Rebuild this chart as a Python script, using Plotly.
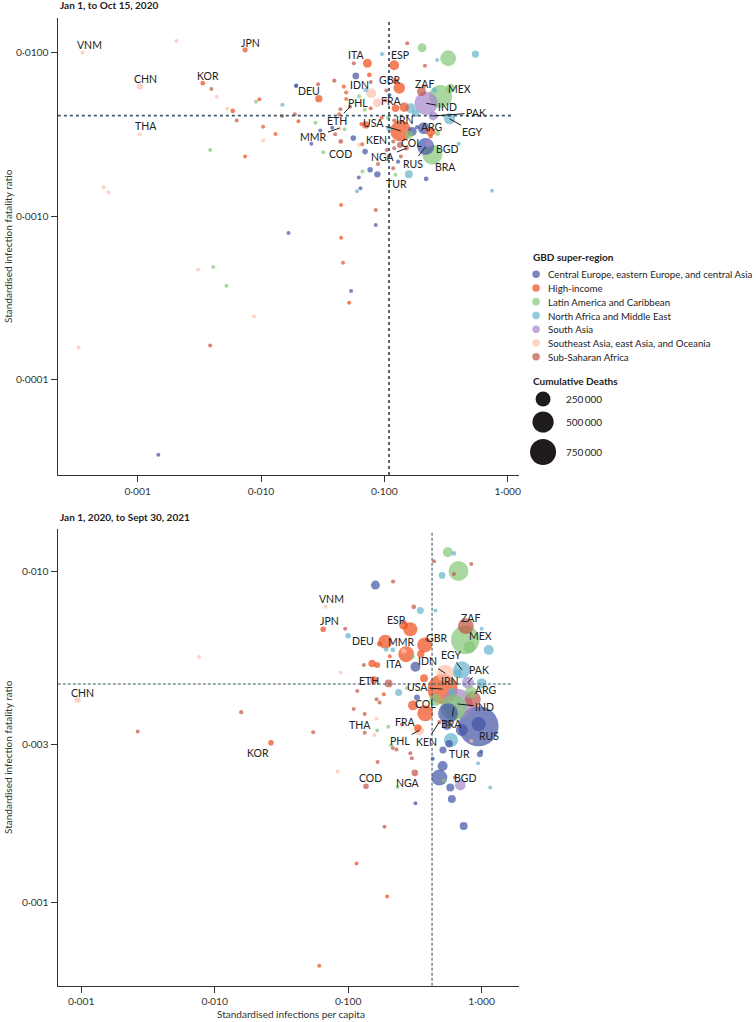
import numpy as np
import plotly.graph_objects as go

W, H = 756, 1022
FONT = "Lato, 'Open Sans', sans-serif"

# ---------------- categories / legend ----------------
regions = ["Central Europe, eastern Europe, and central Asia", "High-income",
           "Latin America and Caribbean", "North Africa and Middle East", "South Asia",
           "Southeast Asia, east Asia, and Oceania", "Sub-Saharan Africa"]
region_codes = ["CE", "HI", "LA", "NA", "SA", "SE", "SS"]
region_colors = ["#4252a5", "#ef4c1a", "#83c777", "#65b3cc", "#a586cc", "#fcc0a9", "#c25244"]
size_legend_deaths = [250000, 500000, 750000]
size_legend_text = ["250\u2009000", "500\u2009000", "750\u2009000"]

# ---------------- reference (global) lines ----------------
top_ref_inf, top_ref_ifr = 0.109, 0.00412
bot_ref_inf, bot_ref_ifr = 0.425, 0.00456

# ---------------- ticks ----------------
x_ticks = [0.001, 0.01, 0.1, 1.0]
x_ticktext = ["0\u00b7001", "0\u00b7010", "0\u00b7100", "1\u00b7000"]
top_y_ticks = [0.0001, 0.001, 0.01]
top_y_ticktext = ["0\u00b70001", "0\u00b70010", "0\u00b70100"]
bot_y_ticks = [0.001, 0.003, 0.01]
bot_y_ticktext = ["0\u00b7001", "0\u00b7003", "0\u00b7010"]

# ---------------- panel 1: Jan 1 to Oct 15, 2020 ----------------
top_iso = ["VNM", "", "JPN", "CHN", "KOR", "", "", "", "", "",
           "", "", "", "", "", "", "", "THA", "", "",
           "", "", "", "", "", "", "", "", "", "",
           "", "", "", "", "", "", "", "", "", "",
           "ESP", "ITA", "", "", "", "", "", "", "", "",
           "GBR", "", "", "", "IDN", "PHL", "DEU", "", "", "ETH",
           "", "", "", "", "", "", "", "", "", "COD",
           "MMR", "", "", "", "", "", "", "", "USA", "ZAF",
           "", "MEX", "", "", "IND", "PAK", "EGY", "IRN", "", "",
           "FRA", "", "", "", "", "", "COL", "", "", "",
           "", "", "ARG", "", "", "", "", "", "", "",
           "", "", "", "", "", "", "", "", "", "",
           "", "KEN", "NGA", "RUS", "BGD", "BRA", "TUR", "", "", "",
           "", "", "", "", "", "", ""]
top_region = ["SE", "SE", "HI", "SE", "HI", "SS", "SE", "HI", "LA", "SE",
              "HI", "NA", "CE", "SS", "SS", "SS", "HI", "SE", "HI", "HI",
              "SE", "LA", "HI", "SE", "SE", "CE", "SE", "LA", "LA", "SE",
              "SE", "SS", "CE", "SS", "LA", "LA", "NA", "NA", "SS", "NA",
              "HI", "HI", "SS", "CE", "HI", "SS", "SS", "CE", "HI", "SS",
              "HI", "HI", "SS", "NA", "SE", "SE", "HI", "HI", "HI", "SS",
              "LA", "LA", "SS", "HI", "LA", "CE", "SS", "CE", "LA", "SS",
              "SE", "CE", "LA", "CE", "SE", "HI", "CE", "HI", "HI", "SS",
              "SS", "LA", "LA", "NA", "SA", "SA", "NA", "NA", "NA", "HI",
              "HI", "SS", "CE", "LA", "SS", "NA", "LA", "CE", "CE", "CE",
              "HI", "HI", "LA", "SS", "SS", "SS", "SS", "SS", "CE", "SS",
              "LA", "SS", "CE", "CE", "LA", "CE", "CE", "NA", "CE", "NA",
              "NA", "SS", "SS", "CE", "SA", "LA", "NA", "HI", "SS", "CE",
              "HI", "HI", "CE", "HI", "HI", "HI", "HI"]
top_infections = [0.000357, 0.00206, 0.00743, 0.00104, 0.00337, 0.00396, 0.00438, 0.0097, 0.0091, 0.00534,
                  0.0059, 0.0149, 0.0192, 0.0148, 0.0188, 0.00635, 0.0201, 0.00104, 0.0104, 0.0131,
                  0.0104, 0.00387, 0.00743, 0.00053, 0.00058, 0.0167, 0.00308, 0.0041, 0.00525, 0.00877,
                  0.000332, 0.00387, 0.00147, 0.153, 0.202, 0.329, 0.547, 0.268, 0.213, 0.0957,
                  0.120, 0.0728, 0.0565, 0.0586, 0.0755, 0.0393, 0.029, 0.0193, 0.0469, 0.0775,
                  0.132, 0.123, 0.1035, 0.0706, 0.0784, 0.0877, 0.0294, 0.049, 0.049, 0.0527,
                  0.0624, 0.0693, 0.044, 0.043, 0.0276, 0.0302, 0.0399, 0.0256, 0.0319, 0.0443,
                  0.0432, 0.0378, 0.0475, 0.056, 0.062, 0.066, 0.0697, 0.0706, 0.1355, 0.200,
                  0.209, 0.285, 0.343, 0.255, 0.218, 0.248, 0.337, 0.179, 0.163, 0.1445,
                  0.123, 0.102, 0.11, 0.107, 0.12, 0.109, 0.158, 0.168, 0.184, 0.209,
                  0.237, 0.237, 0.27, 0.1335, 0.118, 0.12, 0.108, 0.136, 0.129, 0.118,
                  0.123, 0.0887, 0.0877, 0.0766, 0.0664, 0.062, 0.064, 0.06, 0.218, 0.745,
                  0.40, 0.1045, 0.151, 0.216, 0.229, 0.245, 0.158, 0.0446, 0.0851, 0.0851,
                  0.0446, 0.0462, 0.0537, 0.0518, 0.065, 0.095, 0.0775]
top_ifr = [0.0100, 0.0118, 0.0104, 0.00621, 0.0065, 0.0060, 0.00538, 0.00519, 0.0050, 0.00453,
           0.0044, 0.00479, 0.00626, 0.0041, 0.0042, 0.00384, 0.0038, 0.00317, 0.00352, 0.00318,
           0.0029, 0.00254, 0.00231, 0.0015, 0.0014, 0.000786, 0.00047, 0.000487, 0.000374, 0.000243,
           0.000157, 0.000161, 0.0000346, 0.0114, 0.0107, 0.00924, 0.0098, 0.0090, 0.0083, 0.0098,
           0.00838, 0.0086, 0.0086, 0.0072, 0.0073, 0.00674, 0.0064, 0.0063, 0.0062, 0.0066,
           0.00608, 0.0067, 0.00586, 0.0059, 0.00565, 0.00494, 0.00523, 0.0057, 0.0052, 0.00467,
           0.0054, 0.00447, 0.0045, 0.0042, 0.00372, 0.00334, 0.00317, 0.00277, 0.00246, 0.00286,
           0.00345, 0.00347, 0.0034, 0.0030, 0.00272, 0.00275, 0.00248, 0.00361, 0.00332, 0.00578,
           0.0062, 0.00539, 0.00605, 0.0059, 0.0049, 0.0041, 0.00394, 0.00426, 0.00457, 0.00464,
           0.00457, 0.0051, 0.0055, 0.0040, 0.00384, 0.00345, 0.00314, 0.00329, 0.0035, 0.00345,
           0.00329, 0.00307, 0.00321, 0.00272, 0.00286, 0.0026, 0.00231, 0.00231, 0.00215, 0.00196,
           0.00179, 0.00208, 0.0018, 0.00192, 0.00187, 0.00172, 0.00148, 0.00142, 0.00169, 0.00143,
           0.00277, 0.00254, 0.0026, 0.00266, 0.00277, 0.00237, 0.0018, 0.00117, 0.00109, 0.00088,
           0.000736, 0.000517, 0.000348, 0.000295, 0.00366, 0.0040, 0.00457]
top_deaths = [3000, 3000, 30000, 45000, 25000, 8000, 5000, 8000, 5000, 5000,
              25000, 20000, 15000, 5000, 8000, 8000, 15000, 5000, 8000, 15000,
              8000, 5000, 5000, 3000, 3000, 3000, 3000, 3000, 3000, 3000,
              2000, 3000, 2000, 5000, 90000, 280000, 60000, 15000, 8000, 20000,
              110000, 90000, 8000, 50000, 25000, 20000, 15000, 8000, 20000, 5000,
              150000, 40000, 8000, 25000, 110000, 90000, 60000, 15000, 15000, 15000,
              10000, 10000, 15000, 10000, 8000, 10000, 10000, 10000, 8000, 25000,
              8000, 10000, 8000, 35000, 8000, 10000, 35000, 60000, 490000, 90000,
              15000, 590000, 90000, 30000, 590000, 90000, 140000, 60000, 110000, 100000,
              60000, 5000, 8000, 8000, 8000, 30000, 70000, 90000, 20000, 160000,
              100000, 20000, 30000, 40000, 10000, 10000, 10000, 10000, 20000, 10000,
              10000, 10000, 45000, 35000, 10000, 15000, 15000, 10000, 25000, 10000,
              15000, 10000, 25000, 320000, 60000, 444000, 70000, 5000, 5000, 8000,
              5000, 5000, 5000, 5000, 10000, 10000, 15000]

# ---------------- panel 2: Jan 1, 2020 to Sept 30, 2021 ----------------
bot_iso = ["CHN", "", "", "", "KOR", "", "", "", "", "",
           "", "", "", "", "VNM", "", "", "", "JPN", "",
           "", "ESP", "", "", "ZAF", "", "MEX", "", "", "DEU",
           "", "", "", "", "MMR", "GBR", "", "", "", "",
           "ITA", "", "", "", "IDN", "EGY", "", "PAK", "", "ETH",
           "", "", "", "", "", "", "", "", "", "USA",
           "IRN", "IND", "BRA", "COL", "", "", "", "ARG", "", "RUS",
           "", "", "", "KEN", "FRA", "PHL", "THA", "", "", "",
           "", "", "", "", "", "", "", "", "", "",
           "", "", "COD", "NGA", "", "", "", "TUR", "", "",
           "", "", "", "", "", "BGD", "", "", "", "",
           "", "", "", "", "", "", "", ""]
bot_region = ["SE", "SS", "SE", "SS", "HI", "LA", "NA", "SS", "SS", "LA",
              "SS", "NA", "CE", "SS", "SE", "SS", "NA", "NA", "HI", "SS",
              "NA", "HI", "HI", "SS", "SS", "NA", "LA", "LA", "NA", "HI",
              "HI", "NA", "NA", "HI", "SE", "HI", "SS", "HI", "LA", "HI",
              "HI", "HI", "SS", "CE", "SE", "NA", "NA", "SA", "NA", "SS",
              "HI", "HI", "CE", "NA", "LA", "SS", "SS", "HI", "SS", "HI",
              "NA", "SA", "LA", "LA", "HI", "HI", "CE", "LA", "SS", "CE",
              "CE", "CE", "CE", "SS", "HI", "SE", "SE", "SE", "SS", "SS",
              "SS", "SS", "LA", "LA", "SS", "LA", "SS", "SS", "SS", "SS",
              "SS", "SE", "SS", "LA", "SS", "CE", "SS", "NA", "CE", "CE",
              "CE", "CE", "CE", "LA", "CE", "SA", "SS", "CE", "CE", "NA",
              "NA", "CE", "CE", "HI", "HI", "HI", "SE", "SE"]
bot_infections = [0.00094, 0.00265, 0.00762, 0.0158, 0.0264, 0.558, 0.62, 0.44, 0.836, 0.671,
                  0.62, 0.505, 0.16, 0.217, 0.0678, 0.31, 0.347, 0.45, 0.065, 0.095,
                  0.10, 0.292, 0.26, 0.262, 0.762, 1.0, 0.753, 0.81, 1.13, 0.19,
                  0.172, 0.193, 0.216, 0.272, 0.261, 0.374, 0.39, 0.35, 0.305, 0.205,
                  0.151, 0.165, 0.131, 0.319, 0.535, 0.711, 0.66, 0.789, 1.0, 0.201,
                  0.156, 0.37, 0.328, 0.239, 0.276, 0.117, 0.163, 0.185, 0.172, 0.51,
                  0.598, 0.66, 0.616, 0.45, 0.378, 0.306, 0.56, 0.83, 0.86, 0.948,
                  0.95, 0.71, 0.55, 0.482, 0.332, 0.34, 0.163, 0.157, 0.133, 0.11,
                  0.0547, 0.133, 0.165, 0.2, 0.253, 0.21, 0.216, 0.23, 0.292, 0.30,
                  0.166, 0.0834, 0.136, 0.235, 0.316, 0.319, 0.187, 0.589, 0.57, 0.513,
                  0.43, 0.51, 0.482, 0.52, 0.582, 0.692, 0.63, 0.97, 0.99, 0.94,
                  1.16, 0.598, 0.733, 0.1155, 0.196, 0.0607, 0.836, 0.0877]
bot_ifr = [0.00408, 0.00328, 0.0055, 0.00375, 0.00303, 0.0114, 0.0113, 0.0107, 0.0105, 0.0100,
           0.0098, 0.0097, 0.00907, 0.0093, 0.0078, 0.0078, 0.0076, 0.0076, 0.00667, 0.0067,
           0.00638, 0.00667, 0.00687, 0.0070, 0.00682, 0.0067, 0.0062, 0.0059, 0.00578, 0.00612,
           0.00603, 0.0058, 0.00578, 0.00561, 0.00574, 0.00598, 0.0062, 0.00562, 0.00551, 0.00553,
           0.00526, 0.0052, 0.0052, 0.00514, 0.00491, 0.00503, 0.0049, 0.0046, 0.00458, 0.00458,
           0.00469, 0.00475, 0.00415, 0.0043, 0.00443, 0.00434, 0.0041, 0.00425, 0.00401, 0.0044,
           0.00433, 0.00397, 0.00387, 0.00408, 0.00372, 0.00393, 0.00372, 0.0043, 0.0041, 0.0034,
           0.00345, 0.00331, 0.00343, 0.0035, 0.00336, 0.0033, 0.00359, 0.0032, 0.0037, 0.00383,
           0.00326, 0.00325, 0.0033, 0.00339, 0.00344, 0.00298, 0.00292, 0.00289, 0.00282, 0.00272,
           0.00265, 0.00248, 0.00224, 0.00223, 0.00246, 0.00199, 0.00169, 0.00309, 0.00301, 0.00288,
           0.00271, 0.00258, 0.00238, 0.00233, 0.00222, 0.00226, 0.00238, 0.0028, 0.00285, 0.00263,
           0.00222, 0.00205, 0.0017, 0.00131, 0.00104, 0.000643, 0.00307, 0.00494]
bot_deaths = [40000, 5000, 5000, 20000, 35000, 110000, 25000, 10000, 10000, 440000,
              8000, 50000, 90000, 20000, 5000, 25000, 55000, 10000, 35000, 8000,
              35000, 220000, 90000, 15000, 280000, 10000, 900000, 160000, 110000, 220000,
              30000, 25000, 25000, 280000, 30000, 250000, 20000, 60000, 8000, 15000,
              60000, 40000, 8000, 110000, 330000, 330000, 90000, 160000, 110000, 70000,
              60000, 70000, 40000, 55000, 10000, 10000, 10000, 15000, 10000, 1000000,
              60000, 1000000, 750000, 160000, 280000, 110000, 440000, 160000, 280000, 1780000,
              220000, 160000, 110000, 10000, 60000, 110000, 10000, 10000, 8000, 8000,
              5000, 8000, 5000, 8000, 8000, 8000, 15000, 15000, 15000, 8000,
              8000, 5000, 35000, 10000, 50000, 10000, 10000, 220000, 60000, 55000,
              15000, 110000, 280000, 10000, 70000, 130000, 8000, 40000, 15000, 15000,
              10000, 70000, 70000, 8000, 10000, 8000, 8000, 5000]

# label offsets (text centre relative to point, px) and whether a leader line is drawn
top_labels = {"VNM": (7, -8, 0), "CHN": (6, -7, 0), "KOR": (5, -7, 0), "JPN": (5, -7, 0),
              "THA": (6, -8, 0), "DEU": (-10, -8, 0), "ITA": (-11, -8, 0), "ESP": (6, -10, 0),
              "IDN": (-12, -8, 0), "GBR": (-10, -8, 0), "PHL": (-19, 0, 0), "FRA": (-4, -7, 0),
              "ZAF": (3, -8, 0), "MEX": (19, -7, 0), "IND": (21, 4, 1), "PAK": (43, -3, 1),
              "EGY": (23, 13, 1), "ETH": (-13, 14, 1), "USA": (-27, -8, 1), "IRN": (-11, 7, 0),
              "ARG": (-6, -6, 0), "MMR": (-26, 9, 1), "KEN": (-10, -10, 0), "COL": (3, 8, 0),
              "NGA": (-23, 9, 1), "RUS": (-13, 17, 1), "BGD": (18, 5, 0), "BRA": (13, 12, 0),
              "TUR": (-12, 10, 0), "COD": (0, 13, 0)}
bot_labels = {"CHN": (5, -7, 0), "KOR": (-13, 10, 0), "VNM": (6, -8, 0), "JPN": (6, -8, 0),
              "DEU": (-22, -1, 0), "ESP": (-14, -9, 0), "MMR": (-3, -9, 0), "GBR": (12, -7, 0),
              "ZAF": (5, -8, 0), "MEX": (15, -4, 0), "ITA": (22, 1, 0), "IDN": (-18, -12, 1),
              "EGY": (-11, -15, 1), "PAK": (11, -13, 1), "ETH": (-20, -2, 0), "USA": (-25, -2, 1),
              "IRN": (-2, -10, 0), "ARG": (15, -2, 0), "COL": (-10, 4, 0), "IND": (27, 3, 1),
              "BRA": (-2, 16, 1), "RUS": (10, 10, 0), "FRA": (-12, -6, 0), "PHL": (-19, 10, 1),
              "KEN": (-13, 20, 1), "THA": (-16, 7, 0), "TUR": (9, 14, 0), "COD": (5, -8, 0),
              "NGA": (10, -4, 0), "BGD": (5, -7, 0)}

SIZEREF = 2.0 * 750000 / 26 ** 2
cmap = dict(zip(region_codes, region_colors))

fig = go.Figure()


def add_panel(iso, reg, inf, ifr, deaths, labels, xa, ya, ref_x, ref_y, xr, yr, dash, lw, vtop, hend):
    d = np.array(deaths)
    order = np.argsort(-d, kind="stable")
    fig.add_trace(go.Scatter(
        x=np.array(inf)[order], y=np.array(ifr)[order], mode="markers",
        marker=dict(size=d[order], sizemode="area", sizeref=SIZEREF, sizemin=2,
                    color=[cmap[r] for r in np.array(reg)[order]], opacity=0.7,
                    line=dict(width=0)),
        xaxis=xa, yaxis=ya, showlegend=False, hoverinfo="skip"))
    # global reference lines
    fig.add_trace(go.Scatter(x=[ref_x, ref_x], y=[10 ** yr[0], 10 ** (yr[1] - vtop)], mode="lines",
                             line=dict(color="#3d5a66", width=lw, dash=dash),
                             xaxis=xa, yaxis=ya, showlegend=False, hoverinfo="skip"))
    fig.add_trace(go.Scatter(x=[10 ** xr[0], 10 ** (xr[1] - hend)], y=[ref_y, ref_y], mode="lines",
                             line=dict(color="#3d5a66", width=lw, dash=dash),
                             xaxis=xa, yaxis=ya, showlegend=False, hoverinfo="skip"))
    for i, code in enumerate(iso):
        if code and code in labels:
            dx, dy, ln = labels[code]
            fig.add_annotation(x=np.log10(inf[i]), y=np.log10(ifr[i]), xref=xa, yref=ya,
                               text=code, showarrow=True, ax=dx, ay=dy, arrowhead=0,
                               arrowwidth=1, standoff=0,
                               arrowcolor="#1a1a1a" if ln else "rgba(0,0,0,0)",
                               font=dict(family=FONT, size=10.5, color="#222"))


top_xr, top_yr = [-3.647, 0.088], [-4.585, -1.788]
bot_xr, bot_yr = [-3.175, 0.277], [-3.252, -1.873]

add_panel(top_iso, top_region, top_infections, top_ifr, top_deaths, top_labels, "x", "y",
          top_ref_inf, top_ref_ifr, top_xr, top_yr, "dot", 1.8, 0.01, 0.05)
add_panel(bot_iso, bot_region, bot_infections, bot_ifr, bot_deaths, bot_labels, "x2", "y2",
          bot_ref_inf, bot_ref_ifr, bot_xr, bot_yr, "3px,2px", 1.1, 0.006, 0.05)

# ---------------- legend (drawn in a pixel-space overlay axis) ----------------
leg_x0, leg_y0, leg_dy = 537.5, 274.3, 13.75
fig.add_trace(go.Scatter(x=[leg_x0] * len(regions),
                         y=[leg_y0 + i * leg_dy for i in range(len(regions))],
                         mode="markers", marker=dict(size=7.5, color=region_colors, opacity=0.7),
                         xaxis="x3", yaxis="y3", showlegend=False, hoverinfo="skip"))
for i, name in enumerate(regions):
    fig.add_annotation(x=547, y=leg_y0 + i * leg_dy, xref="x3", yref="y3", text=name,
                       showarrow=False, xanchor="left", yanchor="middle",
                       font=dict(family=FONT, size=9.7, color="#222"))
fig.add_annotation(x=532.5, y=257, xref="x3", yref="y3", text="<b>GBD super-region</b>",
                   showarrow=False, xanchor="left", yanchor="middle",
                   font=dict(family=FONT, size=10, color="#222"))
fig.add_annotation(x=532.5, y=380.5, xref="x3", yref="y3", text="<b>Cumulative Deaths</b>",
                   showarrow=False, xanchor="left", yanchor="middle",
                   font=dict(family=FONT, size=10, color="#222"))
size_leg_y = [399, 422, 452]
fig.add_trace(go.Scatter(x=[544.5] * 3, y=size_leg_y, mode="markers",
                         marker=dict(size=size_legend_deaths, sizemode="area", sizeref=SIZEREF,
                                     color="#1f1a1b", opacity=1, line=dict(width=0)),
                         xaxis="x3", yaxis="y3", showlegend=False, hoverinfo="skip"))
for yy, t in zip(size_leg_y, size_legend_text):
    fig.add_annotation(x=565, y=yy, xref="x3", yref="y3", text=t, showarrow=False,
                       xanchor="left", yanchor="middle",
                       font=dict(family=FONT, size=10, color="#222"))

# ---------------- titles ----------------
fig.add_annotation(x=58 / W, y=1 - 5 / H, xref="paper", yref="paper",
                   text="<b>Jan 1, to Oct 15, 2020</b>", showarrow=False,
                   xanchor="left", yanchor="middle", font=dict(family=FONT, size=10, color="#222"))
fig.add_annotation(x=58 / W, y=1 - 517 / H, xref="paper", yref="paper",
                   text="<b>Jan 1, 2020, to Sept 30, 2021</b>", showarrow=False,
                   xanchor="left", yanchor="middle", font=dict(family=FONT, size=10, color="#222"))
for yc in [246, 757]:
    fig.add_annotation(x=8 / W, y=1 - yc / H, xref="paper", yref="paper",
                       text="Standardised infection fatality ratio", textangle=-90,
                       showarrow=False, xanchor="center", yanchor="middle",
                       font=dict(family=FONT, size=10, color="#333"))
fig.add_annotation(x=292 / W, y=1 - 1014 / H, xref="paper", yref="paper",
                   text="Standardised infections per capita", showarrow=False,
                   xanchor="center", yanchor="middle", font=dict(family=FONT, size=10, color="#333"))

axis_common = dict(type="log", showline=True, linecolor="#333", linewidth=1.4, ticks="outside",
                   ticklen=6, tickwidth=1.2, tickcolor="#333", showgrid=False, zeroline=False,
                   tickfont=dict(family=FONT, size=10.3, color="#333"))

fig.update_layout(
    width=W, height=H, margin=dict(l=0, r=0, t=0, b=0),
    paper_bgcolor="white", plot_bgcolor="rgba(0,0,0,0)", showlegend=False,
    font=dict(family=FONT, size=10, color="#222"),
    xaxis=dict(domain=[58 / W, 520 / W], anchor="y", range=top_xr,
               tickvals=x_ticks, ticktext=x_ticktext, **axis_common),
    yaxis=dict(domain=[1 - 475 / H, 1 - 18 / H], anchor="x", range=top_yr,
               tickvals=top_y_ticks, ticktext=top_y_ticktext, **axis_common),
    xaxis2=dict(domain=[58 / W, 520 / W], anchor="y2", range=bot_xr,
                tickvals=x_ticks, ticktext=x_ticktext, **axis_common),
    yaxis2=dict(domain=[1 - 985.7 / H, 1 - 529 / H], anchor="x2", range=bot_yr,
                tickvals=bot_y_ticks, ticktext=bot_y_ticktext, **axis_common),
    xaxis3=dict(domain=[0, 1], range=[0, W], visible=False, anchor="y3", fixedrange=True),
    yaxis3=dict(domain=[0, 1], range=[H, 0], visible=False, anchor="x3", fixedrange=True),
)

fig.write_html("out.html", config={"displayModeBar": False},
               post_script="document.body.style.margin='0';document.body.style.overflow='hidden';")
